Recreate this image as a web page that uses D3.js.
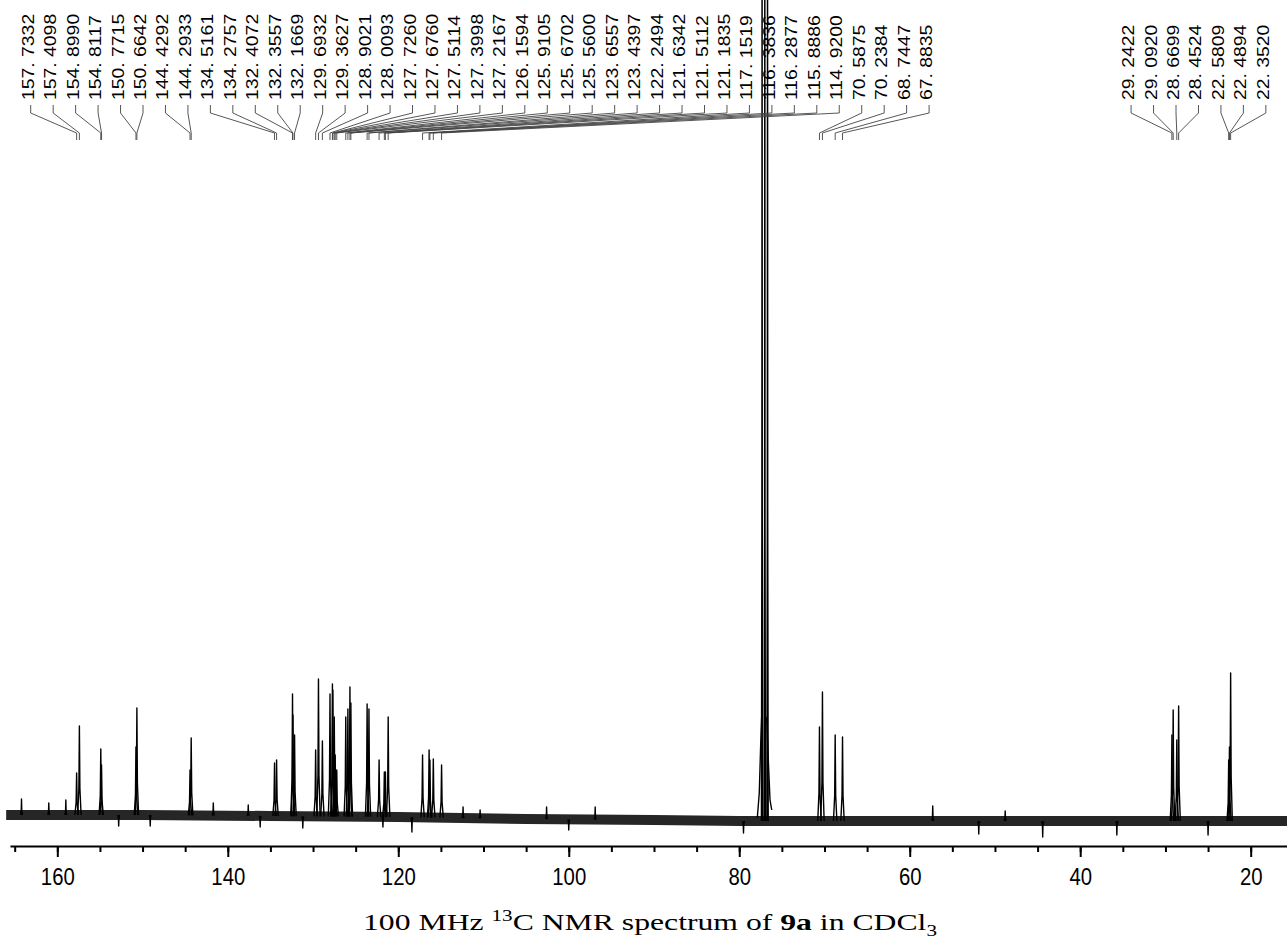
<!DOCTYPE html>
<html>
<head>
<meta charset="utf-8">
<script src="https://cdn.jsdelivr.net/npm/d3@7"></script>
<style>
    body { margin: 0; background: #fff; }
    svg { display: block; }
</style>
</head>
<body>
<svg id="drawing_region"></svg>
<script>
// labelled peaks (ppm) and their heights
const peakShifts = [157.7332, 157.4098, 154.8990, 154.8117, 150.7715, 150.6642, 144.4292, 144.2933,
    134.5161, 134.2757, 132.4072, 132.3557, 132.1669, 129.6932, 129.3627, 128.9021,
    128.0093, 127.7260, 127.6760, 127.5114, 127.3998, 127.2167, 126.1594, 125.9105,
    125.6702, 125.5600, 123.6557, 123.4397, 122.2494, 121.6342, 121.5112, 121.1835,
    117.1519, 116.3836, 116.2877, 115.8886, 114.9200, 70.5875, 70.2384, 68.7447, 67.8835,
    29.2422, 29.0920, 28.6699, 28.4524, 22.5809, 22.4894, 22.3520];
const peakHeights = [42, 89, 66, 50, 68, 107, 45, 77,
    52, 55, 121, 100, 80, 65, 136, 74,
    121, 131, 125, 98, 60, 45, 98, 106,
    128, 112, 111, 106, 55, 43, 43, 98,
    60, 65, 55, 56, 50, 88, 123, 80, 78,
    80, 105, 75, 109, 55, 68, 142];

// CDCl3 triplet, not labelled, runs off the top
const solventShifts = [77.32, 77.00, 76.68];
const solventHeights = [1000, 1000, 1000];
const solventLeft = [[77.88, -3], [77.65, 22], [77.48, 72], [77.37, 98]];
const solventRight = [[76.78, 98], [76.59, 55], [76.39, 15], [76.19, 5]];

// noise band of the baseline
const baselineShifts = [166, 150, 135, 120, 105, 90, 80, 70, 55, 40, 30, 15.5];
const noiseUpper = [5, 5, 4, 3, 1, 0, -1, -1, -1, -1, -1, -1];
const noiseLower = [-5, -5, -6, -7, -9, -10, -11, -11, -11, -11, -11, -11];
// the larger noise spikes, up and down
const spikeShifts = [164.2, 161.0, 159.0, 152.8, 149.1, 141.7, 137.6, 136.2, 131.2,
    121.8, 118.4, 112.4, 110.4, 102.6, 100.0, 96.9, 79.5, 57.3, 51.9, 48.8, 44.4, 35.7, 25.0];
const spikeHeights = [16, 12, 15, -11, -11, 12, 10, -12, -13,
    -12, -17, 8, 5, 8, -15, 8, -18, 9, -19, 4, -22, -20, -20];

// axis ticks
const minorTicks = d3.range(20, 166, 5);
const majorTicks = [160, 140, 120, 100, 80, 60, 40, 20];

class NmrChart {
    constructor (config) {
        this.config = {
            parent: config.parent,
            width: config.width || 1287,
            height: config.height || 945,
            axisY: config.axisY || 846,
            labelGap: config.labelGap || 22.46,
            titleWidth: config.titleWidth || 574
        };
        this.init();
    }

    init() {
        let self = this;

        self.svg = d3.select( self.config.parent )
            .attr('width', self.config.width)
            .attr('height', self.config.height);

        self.xscale = d3.scaleLinear()
            .domain([165.55, 15.74])
            .range([10, self.config.width]);

        self.yscale = d3.scaleLinear()
            .domain([0, 800])
            .range([815, 15]);

        // centre of the noise band, used as foot of each peak
        self.base = d3.scaleLinear()
            .domain(baselineShifts)
            .range(baselineShifts.map((d, i) => (noiseUpper[i] + noiseLower[i]) / 2));
    }

    render() {
        let self = this;
        const x = self.xscale, y = self.yscale;

        // noise band
        const band = baselineShifts.map((d, i) => ({ppm: d, hi: noiseUpper[i], lo: noiseLower[i]}));
        self.svg.append('path')
            .datum(band)
            .attr('fill', '#262626')
            .attr('d', d3.area()
                .x(d => x(d.ppm))
                .y0(d => y(d.lo))
                .y1(d => y(d.hi)));

        // peaks as thin spikes
        const spike = (ppm, h, w) => {
            const b = self.base(ppm);
            return [[ppm + w, b], [ppm + w * 0.3, b + (h - b) * 0.3], [ppm, h],
                    [ppm - w * 0.3, b + (h - b) * 0.3], [ppm - w, b]];
        };
        const line = d3.line().x(d => x(d[0])).y(d => y(d[1]));

        const peaks = peakShifts.map((d, i) => spike(d, peakHeights[i], 0.2));
        const spikes = spikeShifts.map((d, i) => spike(d, spikeHeights[i], 0.1));
        const solvent = solventShifts.map((d, i) => spike(d, solventHeights[i], 0.08));

        self.svg.append('g')
            .selectAll('path')
            .data(peaks.concat(spikes, solvent, [solventLeft, solventRight]))
            .join('path')
            .attr('fill', 'none')
            .attr('stroke', '#000')
            .attr('stroke-width', 1.4)
            .attr('stroke-linejoin', 'round')
            .attr('d', line);

        // axis: minor ticks every 5, major with labels every 20
        const minor = d3.axisBottom(x)
            .tickValues(minorTicks)
            .tickSize(6)
            .tickSizeOuter(0)
            .tickFormat('');
        const minorGroup = self.svg.append('g')
            .attr('transform', `translate(0, ${self.config.axisY})`)
            .call(minor);
        minorGroup.select('.domain').attr('stroke-width', 2.2);
        minorGroup.selectAll('.tick line').attr('stroke-width', 2);

        const major = d3.axisBottom(x)
            .tickValues(majorTicks)
            .tickSize(11)
            .tickSizeOuter(0);
        const majorGroup = self.svg.append('g')
            .attr('transform', `translate(0, ${self.config.axisY})`)
            .call(major);
        majorGroup.select('.domain').remove();
        majorGroup.selectAll('.tick line').attr('stroke-width', 2);
        majorGroup.selectAll('.tick text')
            .attr('y', 0)
            .attr('dy', 0)
            .attr('transform', 'translate(0, 39) scale(0.83, 1)')
            .style('font-family', '"Liberation Sans", Arial, sans-serif')
            .style('font-size', '24.5px')
            .attr('fill', '#000');

        // peak labels spread along the top
        const order = peakShifts.map((d, i) => i).sort((a, b) => peakShifts[b] - peakShifts[a]);
        const px = order.map(i => x(peakShifts[i]));
        const lx = self.spread(px, self.config.labelGap, 30.7, 1278);

        const labels = order.map((i, k) => ({ppm: peakShifts[i], px: px[k], lx: lx[k]}));

        self.svg.append('g')
            .selectAll('path')
            .data(labels)
            .join('path')
            .attr('fill', 'none')
            .attr('stroke', '#444')
            .attr('stroke-width', 0.9)
            .attr('d', d => `M${d.lx},105V113L${d.px},133V140`);

        self.svg.append('g')
            .selectAll('text')
            .data(labels)
            .join('text')
            .attr('transform', d => `translate(${d.lx}, 100) rotate(-90) scale(1.14, 1)`)
            .attr('y', 3)
            .style('font-family', '"Liberation Sans", Arial, sans-serif')
            .style('font-size', '17px')
            .text(d => d3.format('.4f')(d.ppm).replace('.', '. '));

        // caption
        const cx = 650;
        const title = self.svg.append('text')
            .attr('x', cx)
            .attr('y', 930)
            .attr('text-anchor', 'middle')
            .style('font-family', '"Liberation Serif", "Times New Roman", serif')
            .style('font-size', '24px');
        title.append('tspan').text('100 MHz ');
        title.append('tspan').attr('dy', -9).style('font-size', '16px').text('13');
        title.append('tspan').attr('dy', 9).text('C NMR spectrum of ');
        title.append('tspan').style('font-weight', 'bold').text('9a');
        title.append('tspan').text(' in CDCl');
        title.append('tspan').attr('dy', 6).style('font-size', '16px').text('3');

        const k = self.config.titleWidth / title.node().getBBox().width;
        title.attr('transform', `translate(${cx}, 0) scale(${k}, 1) translate(${-cx}, 0)`);
    }

    // push overlapping labels apart, clusters centred on their peaks
    spread(xs, gap, lo, hi) {
        const place = g => {
            const mid = g.sum / g.n - (g.n - 1) * gap / 2;
            g.pos = Math.max(lo, Math.min(hi - (g.n - 1) * gap, mid));
            return g;
        };
        let stack = [];
        xs.forEach((v, i) => {
            let g = place({first: i, n: 1, sum: v});
            while (stack.length) {
                const p = stack[stack.length - 1];
                if (p.pos + p.n * gap <= g.pos) break;
                stack.pop();
                g = place({first: p.first, n: p.n + g.n, sum: p.sum + g.sum});
            }
            stack.push(g);
        });
        let out = [];
        stack.forEach(g => {
            for (let k = 0; k < g.n; k++) out.push(g.pos + k * gap);
        });
        return out;
    }
}

let chart = new NmrChart({ parent: '#drawing_region', width: 1287, height: 945 });
chart.render();
</script>
</body>
</html>
